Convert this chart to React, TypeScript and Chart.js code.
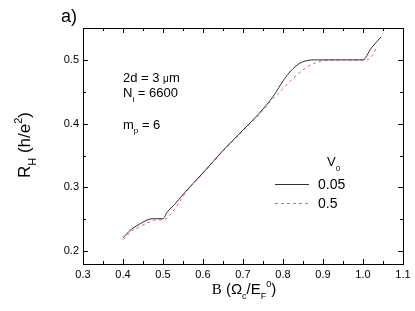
import React, { useEffect, useRef } from 'react';
import { Chart, registerables } from 'chart.js';

Chart.register(...registerables);

// Series V0 = 0.05 (solid black)
const blackX = [0.40, 0.42, 0.44, 0.46, 0.475, 0.50, 0.51, 0.53, 0.55, 0.60, 0.65, 0.70, 0.75, 0.78, 0.80, 0.82, 0.84, 0.86, 0.88, 1.00, 1.02, 1.045];
const blackY = [0.221, 0.234, 0.242, 0.249, 0.251, 0.251, 0.261, 0.274, 0.289, 0.323, 0.358, 0.390, 0.423, 0.447, 0.467, 0.483, 0.494, 0.499, 0.500, 0.500, 0.518, 0.536];

// Series V0 = 0.5 (dashed red)
const redX = [0.40, 0.42, 0.44, 0.46, 0.48, 0.505, 0.52, 0.54, 0.56, 0.60, 0.65, 0.70, 0.75, 0.76, 0.78, 0.80, 0.82, 0.84, 0.86, 0.88, 0.90, 0.92, 1.01, 1.025, 1.035];
const redY = [0.218, 0.231, 0.238, 0.244, 0.249, 0.250, 0.259, 0.276, 0.295, 0.322, 0.357, 0.389, 0.421, 0.429, 0.442, 0.455, 0.468, 0.479, 0.489, 0.495, 0.499, 0.500, 0.500, 0.509, 0.521];

const xTicks = [0.3, 0.4, 0.5, 0.6, 0.7, 0.8, 0.9, 1.0, 1.1];
const xMinorTicks = [0.35, 0.45, 0.55, 0.65, 0.75, 0.85, 0.95, 1.05];
const yTicks = [0.2, 0.3, 0.4, 0.5];
const yMinorTicks = [0.25, 0.35, 0.45];
const xMin = 0.3;
const xMax = 1.1;
const yMin = 0.18;
const yMax = 0.55;

const seriesLabels = ['0.05', '0.5'];
const seriesColors = ['#333333', '#ff5a5a'];

const SANS = 'Arial, "Liberation Sans", sans-serif';
const SERIF = '"Times New Roman", "Liberation Serif", serif';

type Seg = { t: string; s?: 'sub' | 'sup'; f?: string; k?: number };

function drawRich(ctx: CanvasRenderingContext2D, segs: Seg[], x: number, y: number, size: number, align: 'left' | 'center') {
  const fontFor = (seg: Seg) => `${seg.s ? Math.round(size * 0.62) : Math.round(size * (seg.k || 1))}px ${seg.f || SANS}`;
  let w = 0;
  for (const seg of segs) {
    ctx.font = fontFor(seg);
    w += ctx.measureText(seg.t).width;
  }
  let cx = align === 'center' ? x - w / 2 : x;
  ctx.textAlign = 'left';
  ctx.textBaseline = 'alphabetic';
  for (const seg of segs) {
    ctx.font = fontFor(seg);
    const dy = seg.s === 'sub' ? size * 0.35 : seg.s === 'sup' ? -size * 0.5 : 0;
    ctx.fillText(seg.t, cx, y + dy);
    cx += ctx.measureText(seg.t).width;
  }
}

const framePlugin = {
  id: 'frameAndText',
  afterDraw(chart: any) {
    const ctx: CanvasRenderingContext2D = chart.ctx;
    const { left, right, top, bottom } = chart.chartArea;
    const xs = chart.scales.x;
    const ys = chart.scales.y;
    ctx.save();
    ctx.strokeStyle = '#000';
    ctx.lineWidth = 1;
    ctx.strokeRect(Math.round(left) + 0.5, Math.round(top) + 0.5, Math.round(right - left), Math.round(bottom - top));
    ctx.beginPath();
    const tick = (vals: number[], len: number) => {
      for (const v of vals) {
        const px = Math.round(xs.getPixelForValue(v)) + 0.5;
        ctx.moveTo(px, bottom);
        ctx.lineTo(px, bottom - len);
        ctx.moveTo(px, top);
        ctx.lineTo(px, top + len);
      }
    };
    const ytick = (vals: number[], len: number) => {
      for (const v of vals) {
        const py = Math.round(ys.getPixelForValue(v)) + 0.5;
        ctx.moveTo(left, py);
        ctx.lineTo(left + len, py);
        ctx.moveTo(right, py);
        ctx.lineTo(right - len, py);
      }
    };
    tick(xTicks, 5);
    tick(xMinorTicks, 3);
    ytick(yTicks, 5);
    ytick(yMinorTicks, 3);
    ctx.stroke();

    ctx.fillStyle = '#000';
    // panel label
    ctx.font = `18px ${SANS}`;
    ctx.textAlign = 'left';
    ctx.textBaseline = 'alphabetic';
    ctx.fillText('a)', 61, 22);

    // annotations
    drawRich(ctx, [{ t: '2d = 3 ' }, { t: 'μ', k: 0.8 }, { t: 'm' }], 123, 82, 13, 'left');
    drawRich(ctx, [{ t: 'N' }, { t: 'l', s: 'sub' }, { t: ' = 6600' }], 123, 97, 13, 'left');
    drawRich(ctx, [{ t: 'm' }, { t: 'p', s: 'sub' }, { t: ' = 6' }], 123, 128.5, 13, 'left');

    // x title
    drawRich(ctx, [{ t: 'B', f: SERIF }, { t: ' (Ω' }, { t: 'c', s: 'sub' }, { t: '/E' }, { t: 'F', s: 'sub' }, { t: '0', s: 'sup' }, { t: ')' }], 244, 294, 15, 'center');

    // y title
    ctx.save();
    ctx.translate(30, 145);
    ctx.rotate(-Math.PI / 2);
    drawRich(ctx, [{ t: 'R' }, { t: 'H', s: 'sub' }, { t: ' (h/e' }, { t: '2', s: 'sup' }, { t: ')' }], 0, 0, 17, 'center');
    ctx.restore();

    // legend
    drawRich(ctx, [{ t: 'V' }, { t: '0', s: 'sub' }], 327, 166, 13, 'left');
    const legY = [184, 203];
    chart.data.datasets.forEach((ds: any, i: number) => {
      ctx.beginPath();
      ctx.strokeStyle = ds.borderColor;
      ctx.lineWidth = 1;
      ctx.setLineDash(ds.borderDash || []);
      ctx.moveTo(275, legY[i] + 0.5);
      ctx.lineTo(309, legY[i] + 0.5);
      ctx.stroke();
      ctx.setLineDash([]);
      ctx.fillStyle = '#000';
      ctx.font = `14px ${SANS}`;
      ctx.textBaseline = 'middle';
      ctx.fillText(seriesLabels[i], 318, legY[i] + 1);
    });
    ctx.restore();
  },
};

export default function App() {
  const ref = useRef<HTMLCanvasElement | null>(null);
  useEffect(() => {
    if (!ref.current) return;
    const chart = new Chart(ref.current, {
      type: 'line',
      data: {
        datasets: [
          {
            label: seriesLabels[0],
            data: blackX.map((x, i) => ({ x, y: blackY[i] })),
            borderColor: seriesColors[0],
            borderWidth: 1,
            pointRadius: 0,
            cubicInterpolationMode: 'monotone',
            fill: false,
          },
          {
            label: seriesLabels[1],
            data: redX.map((x, i) => ({ x, y: redY[i] })),
            borderColor: seriesColors[1],
            borderWidth: 1,
            borderDash: [3, 3],
            pointRadius: 0,
            cubicInterpolationMode: 'monotone',
            fill: false,
          },
        ],
      },
      options: {
        animation: false,
        responsive: false,
        maintainAspectRatio: false,
        devicePixelRatio: 1,
        layout: { padding: { top: 28, right: 12, left: 0, bottom: 0 } },
        plugins: { legend: { display: false }, tooltip: { enabled: false }, title: { display: false } },
        scales: {
          x: {
            type: 'linear',
            min: xMin,
            max: xMax,
            grid: { display: false, drawTicks: false },
            border: { display: false },
            afterBuildTicks: (s: any) => { s.ticks = xTicks.map((v) => ({ value: v })); },
            afterFit: (s: any) => { s.height = 47; },
            ticks: {
              color: '#000',
              font: { family: SANS, size: 11 },
              padding: 4,
              maxRotation: 0,
              callback: (v: any) => Number(v).toFixed(1),
            },
          },
          y: {
            type: 'linear',
            min: yMin,
            max: yMax,
            grid: { display: false, drawTicks: false },
            border: { display: false },
            afterBuildTicks: (s: any) => { s.ticks = yTicks.map((v) => ({ value: v })); },
            afterFit: (s: any) => { s.width = 83; },
            ticks: {
              color: '#000',
              font: { family: SANS, size: 11 },
              padding: 4,
              callback: (v: any) => Number(v).toFixed(1),
            },
          },
        },
      },
      plugins: [framePlugin],
    });
    return () => chart.destroy();
  }, []);
  return (
    <div style={{ position: 'fixed', left: 0, top: 0, width: 415, height: 311, background: '#fff' }}>
      <canvas ref={ref} width={415} height={311} style={{ width: 415, height: 311 }} />
    </div>
  );
}
